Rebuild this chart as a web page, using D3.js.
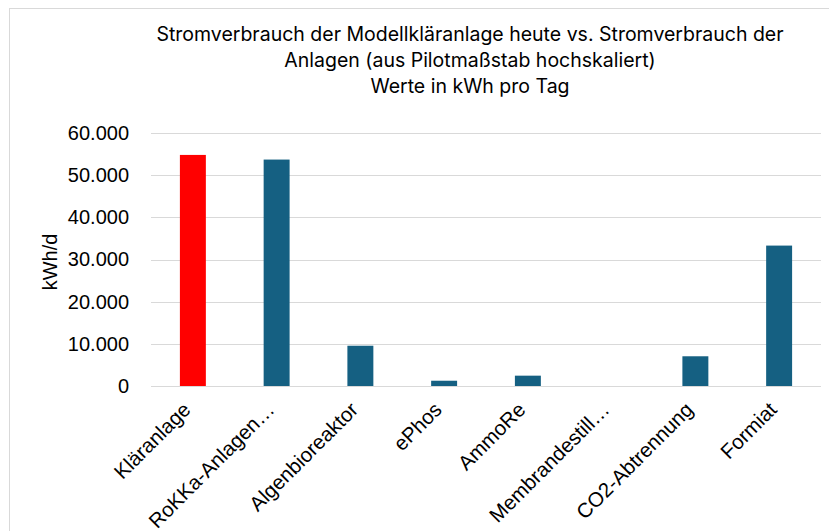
<!DOCTYPE html>
<html>
<head>
<meta charset="utf-8">
<script src="https://cdn.jsdelivr.net/npm/d3@7"></script>
<style>
  body { margin: 0; background: #fff; }
  svg { display: block; }
</style>
</head>
<body>
<svg id="chart" width="829" height="531"></svg>
<script>
var categories = ["Kläranlage", "RoKKa-Anlagen…", "Algenbioreaktor", "ePhos", "AmmoRe", "Membrandestill…", "CO2-Abtrennung", "Formiat"];
var values = [54800, 53700, 9550, 1250, 2450, 0, 7050, 33300];
var barColors = ["#ff0000", "#156082", "#156082", "#156082", "#156082", "#156082", "#156082", "#156082"];
var yTicks = [0, 10000, 20000, 30000, 40000, 50000, 60000];
var titleLines = ["Stromverbrauch der Modellkläranlage heute vs. Stromverbrauch der",
                  "Anlagen (aus Pilotmaßstab hochskaliert)",
                  "Werte in kWh pro Tag"];

var svg = d3.select("#chart");
var plotLeft = 151, plotRight = 821, plotTop = 133, plotBottom = 386;

// chart frame
svg.append("rect")
  .attr("x", 9.5).attr("y", 8.5)
  .attr("width", 900).attr("height", 600)
  .attr("fill", "#fff")
  .attr("stroke", "#d9d9d9");

var de = d3.formatLocale({decimal: ",", thousands: ".", grouping: [3], currency: ["", "€"]});
var fmt = de.format(",.0f");

var x = d3.scaleBand().domain(categories).range([plotLeft, plotRight]).padding(0);
var y = d3.scaleLinear().domain([0, 60000]).range([plotBottom, plotTop]);
var barW = x.bandwidth() * 0.31;

// gridlines
svg.append("g").selectAll("line")
  .data(yTicks)
  .enter().append("line")
  .attr("x1", plotLeft).attr("x2", plotRight)
  .attr("y1", function(d) { return Math.round(y(d)) + 0.5; })
  .attr("y2", function(d) { return Math.round(y(d)) + 0.5; })
  .attr("stroke", "#d9d9d9")
  .attr("stroke-width", 1.2);

// y axis labels
var yAxis = d3.axisLeft(y).tickValues(yTicks).tickFormat(fmt).tickSize(0).tickPadding(22);
var gy = svg.append("g").attr("transform", "translate(" + plotLeft + ",0)").call(yAxis);
gy.select(".domain").remove();
gy.selectAll("text")
  .attr("font-family", "Liberation Sans, Arial, sans-serif")
  .attr("font-size", "20px")
  .attr("fill", "#000");

// bars
svg.append("g").selectAll("rect")
  .data(values)
  .enter().append("rect")
  .attr("x", function(d, i) { return x(categories[i]) + (x.bandwidth() - barW) / 2; })
  .attr("y", function(d) { return y(d); })
  .attr("width", barW)
  .attr("height", function(d) { return plotBottom - y(d); })
  .attr("fill", function(d, i) { return barColors[i]; });

// x labels
svg.append("g").selectAll("text")
  .data(categories)
  .enter().append("text")
  .attr("transform", function(d) {
    var cx = x(d) + x.bandwidth() / 2;
    return "translate(" + (cx - 1) + "," + 411 + ") rotate(-45)";
  })
  .attr("text-anchor", "end")
  .attr("font-family", "Liberation Sans, Arial, sans-serif")
  .attr("font-size", "20.5px")
  .attr("fill", "#000")
  .text(function(d) { return d; });

// y axis title
svg.append("text")
  .attr("transform", "translate(57,262) rotate(-90)")
  .attr("text-anchor", "middle")
  .attr("font-family", "Liberation Sans, Arial, sans-serif")
  .attr("font-size", "20px")
  .attr("fill", "#000")
  .text("kWh/d");

// title
svg.append("g").selectAll("text")
  .data(titleLines)
  .enter().append("text")
  .attr("x", 470)
  .attr("y", function(d, i) { return 41 + i * 26; })
  .attr("text-anchor", "middle")
  .attr("font-family", "Inter, Roboto, sans-serif")
  .attr("font-size", "19.5px")
  .attr("fill", "#000")
  .text(function(d) { return d; });
</script>
</body>
</html>
